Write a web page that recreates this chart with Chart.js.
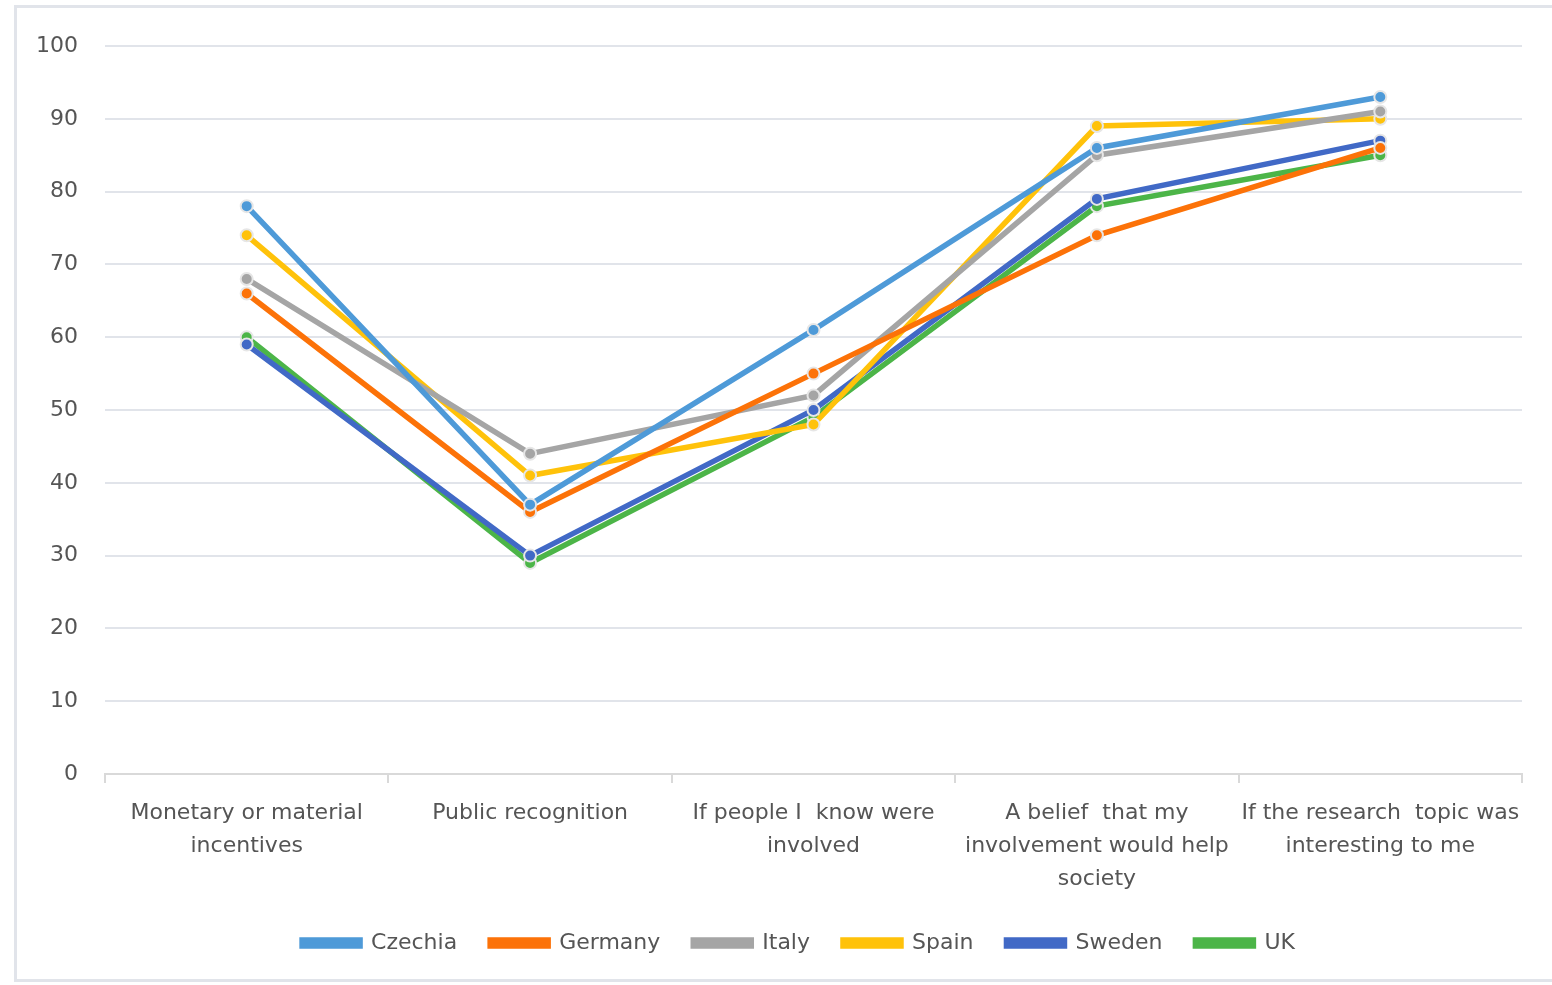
<!DOCTYPE html>
<html>
<head>
<meta charset="utf-8">
<script src="https://cdn.jsdelivr.net/npm/chart.js@4.4.0/dist/chart.umd.min.js"></script>
<style>
    html, body { margin: 0; padding: 0; background: #fff; }
    #frame {
        position: absolute; left: 14px; top: 5px; width: 1560px; height: 977px;
        border: 3px solid #e1e4ea; box-sizing: border-box;
    }
    #wrap { position: absolute; left: 0; top: 0; width: 1552px; height: 985px; }
</style>
</head>
<body>
<div id="frame"></div>
<div id="wrap"><canvas id="chart"></canvas></div>
<script>
// Data
const categories = [
    ['Monetary or material', 'incentives'],
    'Public recognition',
    ['If people I  know were', 'involved'],
    ['A belief  that my', 'involvement would help', 'society'],
    ['If the research  topic was', 'interesting to me']
];
const countries = ['Czechia', 'Germany', 'Italy', 'Spain', 'Sweden', 'UK'];
const czechia = [78, 37, 61, 86, 93];
const germany = [66, 36, 55, 74, 86];
const italy   = [68, 44, 52, 85, 91];
const spain   = [74, 41, 48, 89, 90];
const sweden  = [59, 30, 50, 79, 87];
const uk      = [60, 29, 49, 78, 85];
const yTicks  = [0, 10, 20, 30, 40, 50, 60, 70, 80, 90, 100];

const colors = ['#4e9ad8', '#fc7208', '#a5a5a5', '#ffc20a', '#4169c6', '#4cb548'];
const seriesData = [czechia, germany, italy, spain, sweden, uk];

const datasets = countries.map((name, i) => ({
    label: name,
    data: seriesData[i],
    borderColor: colors[i],
    backgroundColor: colors[i],
    borderWidth: 5.5,
    pointRadius: 6,
    pointBorderWidth: 2,
    pointBorderColor: '#e6e6e6',
    pointBackgroundColor: colors[i],
    tension: 0
}));

const textColor = '#555555';
const fontFamily = '"DejaVu Sans", sans-serif';

// the legend sits a little right of the canvas centre
const legendShift = {
    id: 'legendShift',
    afterLayout(chart) {
        if (chart.legend) {
            chart.legend.left += 33;
            chart.legend.right += 33;
        }
    }
};

new Chart(document.getElementById('chart').getContext('2d'), {
    type: 'line',
    data: { labels: categories, datasets: datasets },
    plugins: [legendShift],
    options: {
        responsive: true,
        maintainAspectRatio: false,
        animation: false,
        layout: { padding: { left: 9, right: 30, top: 46, bottom: 21 } },
        scales: {
            x: {
                offset: true,
                grid: {
                    offset: true,
                    drawOnChartArea: false,
                    drawTicks: true,
                    tickLength: 9,
                    color: '#d9d9d9',
                    lineWidth: 2
                },
                border: { display: true, color: '#d9d9d9', width: 2 },
                ticks: {
                    autoSkip: false,
                    maxRotation: 0,
                    color: textColor,
                    padding: 14,
                    font: { family: fontFamily, size: 22, lineHeight: 1.5 }
                },
                // labels keep their place, the plot reaches a bit lower
                afterFit: scale => { scale.height -= 11; }
            },
            y: {
                min: 0,
                max: 100,
                afterBuildTicks: axis => { axis.ticks = yTicks.map(v => ({ value: v })); },
                grid: { color: '#e1e4ea', lineWidth: 2, drawTicks: false },
                border: { display: false },
                ticks: {
                    color: textColor,
                    padding: 27,
                    font: { family: fontFamily, size: 22 }
                }
            }
        },
        plugins: {
            legend: {
                position: 'bottom',
                labels: {
                    color: textColor,
                    boxWidth: 58,
                    boxHeight: 6,
                    padding: 33,
                    font: { family: fontFamily, size: 22 }
                }
            },
            tooltip: { enabled: false }
        }
    }
});
</script>
</body>
</html>
